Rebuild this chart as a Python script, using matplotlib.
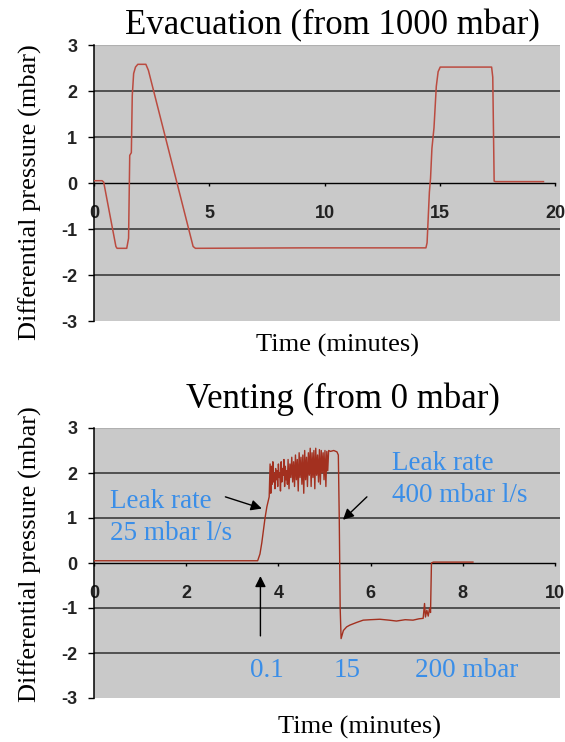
import numpy as np
import matplotlib
matplotlib.use("Agg")
import matplotlib.pyplot as plt

# evacuation run (from 1000 mbar)
evac_t = [0.0, 0.35, 0.42, 0.95, 1.0, 1.42, 1.5, 1.55, 1.62, 1.66, 1.72,
          1.8, 1.9, 2.25, 2.36, 4.3, 4.4, 9.1, 14.4, 14.45, 14.55, 14.6,
          14.66, 14.75, 14.85, 14.93, 15.02, 17.25, 17.3, 17.36, 17.42, 19.5]
evac_p = [0.05, 0.05, 0.02, -1.38, -1.42, -1.42, -1.2, 0.6, 0.66, 1.9, 2.38,
          2.52, 2.58, 2.58, 2.45, -1.38, -1.42, -1.41, -1.41, -1.3, -0.2, 0.1,
          0.75, 1.2, 2.1, 2.42, 2.52, 2.52, 2.3, 0.04, 0.03, 0.03]

# venting run (from 0 mbar)
vent_t = [0.0, 3.55, 3.6, 3.64, 3.71, 3.75, 3.8,
          3.82, 3.835, 3.85, 3.865, 3.88, 3.895, 3.91, 3.925, 3.94, 3.955,
          3.97, 3.985, 4.00, 4.015, 4.03, 4.045, 4.06, 4.075, 4.09, 4.105,
          4.12, 4.135, 4.15, 4.165, 4.18, 4.195, 4.21, 4.23, 4.25, 4.27,
          4.29, 4.31, 4.33, 4.35, 4.37, 4.39, 4.41, 4.43, 4.45, 4.47,
          4.49, 4.51, 4.53, 4.55, 4.57, 4.59, 4.61, 4.63, 4.65, 4.67,
          4.69, 4.71, 4.73, 4.75, 4.77, 4.79, 4.81, 4.83, 4.85, 4.87,
          4.89, 4.91, 4.93, 4.95, 4.97, 4.99, 5.01, 5.03, 5.05, 5.07, 5.09,
          5.13, 5.2, 5.27, 5.30, 5.32, 5.34, 5.36, 5.41, 5.48, 5.55,
          5.7, 5.84, 6.0, 6.2, 6.4, 6.56, 6.75, 6.92, 7.05, 7.14, 7.17,
          7.19, 7.22, 7.25, 7.28, 7.3, 7.32, 7.36, 8.22]
vent_p = [0.05, 0.05, 0.2, 0.45, 1.0, 1.25, 1.47,
          2.2, 1.55, 2.15, 1.75, 2.25, 1.8, 2.0, 1.65, 2.1, 1.85,
          2.05, 1.7, 2.2, 1.9, 2.0, 1.6, 2.25, 1.8, 2.1, 1.95,
          2.3, 1.7, 2.15, 1.85, 2.05, 1.75, 2.3, 1.65, 2.2, 1.9,
          2.35, 1.8, 2.25, 1.7, 2.4, 1.85, 2.3, 1.6, 2.45, 1.9,
          2.35, 1.75, 2.4, 1.55, 2.5, 1.85, 2.35, 1.7, 2.45, 1.95,
          2.55, 1.7, 2.45, 1.9, 2.5, 1.65, 2.55, 1.95, 2.4, 1.8,
          2.52, 1.75, 2.5, 2.0, 2.45, 1.85, 2.5, 1.7, 2.48, 2.05, 2.5,
          2.48, 2.5, 2.47, 2.4, 1.0, -1.0, -1.68, -1.5, -1.42, -1.38,
          -1.32, -1.27, -1.26, -1.25, -1.27, -1.29, -1.26, -1.27, -1.24, -1.23, -0.9,
          -1.2, -1.05, -1.18, -1.0, -1.1, 0.0, 0.02, 0.02]

yticks = [-3, -2, -1, 0, 1, 2, 3]
ytick_labels = ["-3", "-2", "-1", "0", "1", "2", "3"]
evac_xticks = [0, 5, 10, 15, 20]
vent_xticks = [0, 2, 4, 6, 8, 10]

W, H = 565, 742
fig = plt.figure(figsize=(W / 100, H / 100), dpi=100)

serif = "Liberation Serif"
blue = "#3a8ee8"


def setup(ax, xmax, xticks):
    ax.set_facecolor("#c9c9c9")
    ax.set_xlim(0, xmax * 466 / 461)
    ax.set_ylim(-3, 3)
    for g in [-2, -1, 1, 2]:
        ax.axhline(g, color="#505050", lw=1.4, zorder=1)
    ax.axhline(3, color="#b0b0b0", lw=0.8, zorder=1)
    ax.spines["top"].set_visible(False)
    ax.spines["right"].set_visible(False)
    ax.spines["left"].set_linewidth(1.1)
    ax.spines["bottom"].set_position(("data", 0))
    ax.spines["bottom"].set_bounds(0, xmax)
    ax.spines["bottom"].set_linewidth(1.0)
    ax.spines["bottom"].set_zorder(2)
    ax.set_yticks(yticks)
    ax.set_yticklabels(ytick_labels)
    ax.set_xticks(xticks)
    ax.set_xticklabels([str(v) for v in xticks])
    ax.tick_params(axis="y", length=4, width=1, pad=8, labelsize=13,
                   labelcolor="#222222")
    ax.tick_params(axis="x", length=2.5, width=1, pad=13, labelsize=13,
                   labelcolor="#222222")
    for lab in ax.get_xticklabels() + ax.get_yticklabels():
        lab.set_fontfamily("Liberation Sans")
        lab.set_fontweight("bold")


# top: evacuation
ax1 = fig.add_axes([94 / W, 1 - 321 / H, 466 / W, 276 / H])
setup(ax1, 20, evac_xticks)
ax1.plot(evac_t, evac_p, color="#bb4b40", lw=1.1, zorder=3)
fig.text(332 / W, 1 - 26 / H, "Evacuation (from 1000 mbar)", family=serif,
         fontsize=25, ha="center", va="center")
fig.text(338 / W, 1 - 345 / H, "Time (minutes)", family=serif,
         fontsize=19, ha="center", va="center")
fig.text(30 / W, 1 - 192 / H, "Differential pressure (mbar)", family=serif,
         fontsize=19, ha="center", va="center", rotation=90)

# bottom: venting
ax2 = fig.add_axes([94 / W, 1 - 698 / H, 466 / W, 270 / H])
setup(ax2, 10, vent_xticks)
ax2.plot(vent_t, vent_p, color="#a3301f", lw=1.0, zorder=3)
fig.text(343 / W, 1 - 399 / H, "Venting (from 0 mbar)", family=serif,
         fontsize=25, ha="center", va="center")
fig.text(359 / W, 1 - 727 / H, "Time (minutes)", family=serif,
         fontsize=19, ha="center", va="center")
fig.text(30 / W, 1 - 554 / H, "Differential pressure (mbar)", family=serif,
         fontsize=19, ha="center", va="center", rotation=90)

# annotations
fs = 19.5
ax2.text(0.34, 1.36, "Leak rate", family=serif, fontsize=fs, color=blue,
         ha="left", va="center")
ax2.text(0.34, 0.66, "25 mbar l/s", family=serif, fontsize=fs, color=blue,
         ha="left", va="center")
ax2.text(6.47, 2.2, "Leak rate", family=serif, fontsize=fs, color=blue,
         ha="left", va="center")
ax2.text(6.47, 1.49, "400 mbar l/s", family=serif, fontsize=fs, color=blue,
         ha="left", va="center")
ax2.text(3.74, -2.39, "0.1", family=serif, fontsize=fs, color=blue,
         ha="center", va="center")
ax2.text(5.48, -2.39, "15", family=serif, fontsize=fs, color=blue,
         ha="center", va="center")
ax2.text(8.08, -2.39, "200 mbar", family=serif, fontsize=fs, color=blue,
         ha="center", va="center")

arrow = dict(arrowstyle="-|>", color="black", lw=1.0, mutation_scale=16,
             shrinkA=0, shrinkB=0)
ax2.annotate("", xy=(3.64, 1.21), xytext=(2.85, 1.47), arrowprops=arrow)
ax2.annotate("", xy=(5.40, 0.96), xytext=(5.92, 1.47), arrowprops=arrow)
ax2.annotate("", xy=(3.61, -0.29), xytext=(3.61, -1.62), arrowprops=arrow)

fig.savefig("out.png", dpi=100)
